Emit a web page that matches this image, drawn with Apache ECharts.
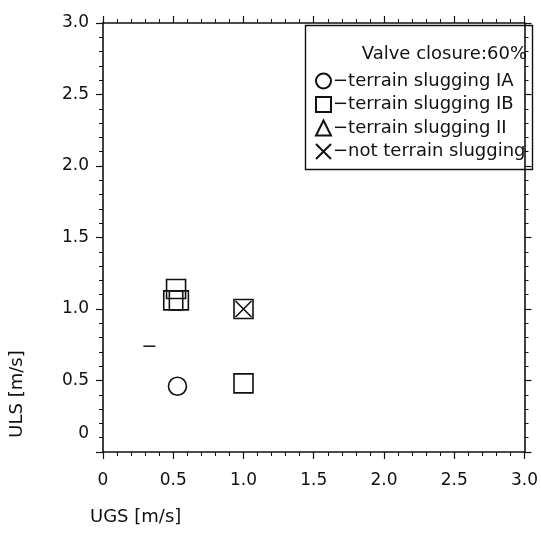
<!DOCTYPE html>
<html>
<head>
<meta charset="utf-8">
<script src="https://cdn.jsdelivr.net/npm/echarts@6/dist/echarts.min.js"></script>
<style>
  html, body { margin: 0; padding: 0; background: #fff; }
  #chart { width: 541px; height: 535px; }
</style>
</head>
<body>
<div id="chart"></div>
<script>
// data (UGS, ULS in m/s)
const slugIA = [[0.53, 0.46]];
const slugIB = [[0.52, 1.14], [0.5, 1.06], [0.54, 1.06], [1.0, 0.48], [1.0, 1.0]];
const slugII = [];
const noSlug = [[1.0, 1.0]];
const strayMark = [[0.33, 0.74]];

const legendNames = ['terrain slugging IA', 'terrain slugging IB', 'terrain slugging II', 'not terrain slugging'];
const noteText = 'Valve closure:60%';
const xName = 'UGS [m/s]';
const yName = 'ULS [m/s]';

const font = 'DejaVu Sans';
const ink = '#111';
const hollow = { color: 'rgba(0,0,0,0)', borderColor: ink, borderWidth: 1.6, opacity: 1 };
const crossPath = 'path://M0,0L10,10M10,0L0,10';

const chart = echarts.init(document.getElementById('chart'));

const tickLabel = v => (v === 0 ? '{z|0}' : v.toFixed(1));

const baseAxis = {
  min: 0, max: 3, interval: 0.5,
  axisLine: { show: true, onZero: false, lineStyle: { color: ink, width: 1.6 } },
  axisTick: { show: true, inside: false, length: 7, lineStyle: { color: ink, width: 1.2 } },
  minorTick: { show: true, splitNumber: 5, length: 4, lineStyle: { color: ink, width: 1 } },
  splitLine: { show: false }
};

const option = {
  backgroundColor: '#fff',
  animation: false,
  textStyle: { fontFamily: font, color: ink },
  grid: { left: 103, right: 11, top: 23, bottom: 83 },
  xAxis: [
    Object.assign({}, baseAxis, {
      type: 'value', position: 'bottom',
      axisLabel: { formatter: tickLabel, fontSize: 17, color: ink, margin: 20, fontFamily: font, rich: { z: { fontSize: 17 } } }
    }),
    Object.assign({}, baseAxis, { type: 'value', position: 'top', axisLabel: { show: false } })
  ],
  yAxis: [
    Object.assign({}, baseAxis, {
      type: 'value', position: 'left',
      axisLabel: {
        formatter: tickLabel, fontSize: 17, color: ink, margin: 14, fontFamily: font,
        rich: { z: { fontSize: 17, fontFamily: font, color: ink, padding: [0, 0, 36, 0] } }
      }
    }),
    Object.assign({}, baseAxis, { type: 'value', position: 'right', axisLabel: { show: false } })
  ],
  legend: {
    orient: 'vertical',
    left: 310, top: 67,
    itemWidth: 15, itemHeight: 15, itemGap: 5.5,
    data: legendNames,
    formatter: n => '\u2212' + n,
    textStyle: { fontFamily: font, fontSize: 18, color: ink, padding: [0, 0, 0, -3] },
    inactiveColor: ink,
    selectedMode: false
  },
  title: {
    text: noteText,
    right: 9, top: 40,
    textStyle: { fontFamily: font, fontSize: 18, fontWeight: 'normal', color: ink }
  },
  graphic: [
    {
      type: 'rect', left: 303, top: 23, z: 10,
      shape: { width: 227, height: 144 },
      style: { fill: 'none', stroke: ink, lineWidth: 1.4 }
    },
    {
      type: 'text', left: 90, top: 508,
      style: { text: xName, font: '18px "DejaVu Sans"', fill: ink }
    },
    {
      type: 'text', x: 17, y: 394, rotation: Math.PI / 2,
      style: { text: yName, font: '18px "DejaVu Sans"', fill: ink, align: 'center', verticalAlign: 'middle' }
    }
  ],
  series: [
    { name: legendNames[0], type: 'scatter', symbol: 'circle', symbolSize: 18, data: slugIA, itemStyle: hollow },
    { name: legendNames[1], type: 'scatter', symbol: 'rect', symbolSize: 19, data: slugIB, itemStyle: hollow },
    { name: legendNames[2], type: 'scatter', symbol: 'triangle', symbolSize: 18, data: slugII, itemStyle: hollow },
    { name: legendNames[3], type: 'scatter', symbol: crossPath, symbolSize: 16, data: noSlug, itemStyle: hollow },
    {
      name: 'mark', type: 'scatter', symbol: 'rect', symbolSize: [12, 1.5], data: strayMark,
      itemStyle: { color: ink, opacity: 1 }
    }
  ]
};

chart.setOption(option);
</script>
</body>
</html>
